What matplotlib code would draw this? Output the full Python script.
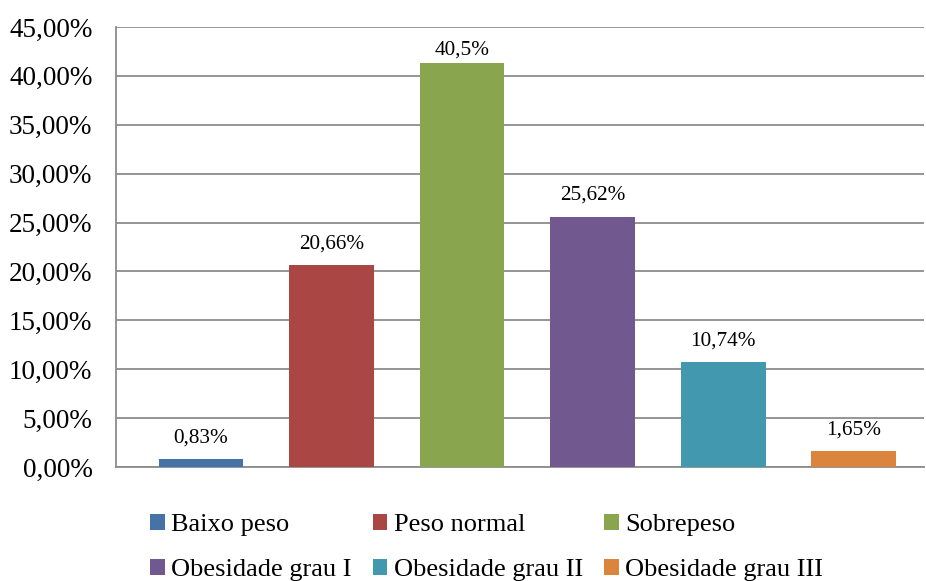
import matplotlib
matplotlib.use("Agg")
import matplotlib.pyplot as plt
from matplotlib.patches import Patch
from matplotlib.ticker import FuncFormatter

# data
categorias = ["Baixo peso", "Peso normal", "Sobrepeso",
              "Obesidade grau I", "Obesidade grau II", "Obesidade grau III"]
valores = [0.83, 20.66, 41.32, 25.62, 10.74, 1.65]
# values shown in the data labels (the Sobrepeso label says 40,5%)
valores_rotulo = [0.83, 20.66, 40.5, 25.62, 10.74, 1.65]
rotulos = ["0,83%", "20,66%", "40,5%", "25,62%", "10,74%", "1,65%"]
cores = ["#4572A7", "#AA4643", "#89A54E", "#71588F", "#4198AF", "#DB843D"]

plt.rcParams['font.family'] = ['Liberation Serif', 'DejaVu Serif']

fig = plt.figure(figsize=(9.26, 5.81), dpi=100)
ax = fig.add_axes([0.1253, 0.1962, 0.8727, 0.7573])

x = list(range(len(categorias)))
ax.bar(x, valores, width=0.65, color=cores, zorder=3)

# data labels above bars
for xi, v, r in zip(x, valores_rotulo, rotulos):
    ax.text(xi, v + 1.2, r, ha='center', va='bottom', fontsize=15.3, zorder=4)

ax.set_xlim(-0.651, 5.54)
ax.set_ylim(0, 45)
ax.set_yticks([i * 5 for i in range(10)])
ax.yaxis.set_major_formatter(FuncFormatter(lambda v, p: ("%.2f%%" % v).replace(".", ",")))
ax.tick_params(axis='y', length=0, labelsize=19.5, pad=17)
ax.set_xticks([])
ax.grid(axis='y', color='#8c8c8c', linewidth=1.3, zorder=0)

for s in ['top', 'right']:
    ax.spines[s].set_visible(False)
for s in ['left', 'bottom']:
    ax.spines[s].set_color('#8c8c8c')
    ax.spines[s].set_linewidth(1.3)

# legend: 3 columns, two rows (matplotlib fills column-wise)
handles = [Patch(facecolor=c, label=n) for c, n in zip(cores, categorias)]
ordem = [0, 3, 1, 4, 2, 5]
leg = fig.legend([handles[i] for i in ordem], [categorias[i] for i in ordem],
                 ncol=3, loc='upper left', bbox_to_anchor=(0.162, 0.115),
                 frameon=False, fontsize=19, handlelength=0.55, handleheight=0.55,
                 handletextpad=0.25, columnspacing=0.8, labelspacing=0.86,
                 borderaxespad=0, borderpad=0)

fig.savefig("out.png", dpi=100)
